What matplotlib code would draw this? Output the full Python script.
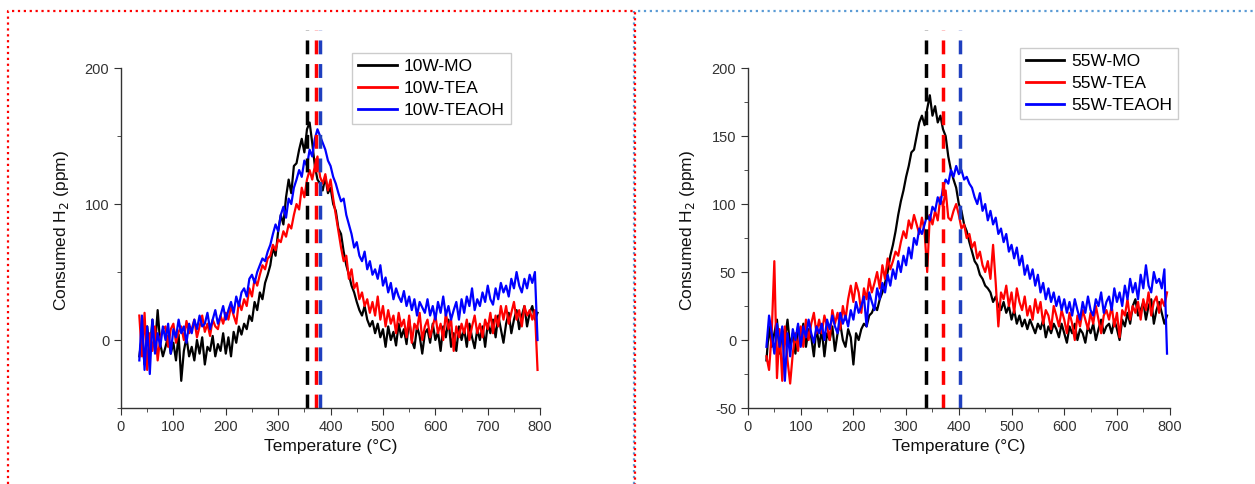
import numpy as np
import matplotlib
matplotlib.use('Agg')
import matplotlib.pyplot as plt
from matplotlib.lines import Line2D

plt.rcParams['font.family'] = ['Liberation Sans', 'DejaVu Sans']
plt.rcParams['axes.unicode_minus'] = False

# temperature grid (°C), one reading every 5 °C from 35 to 795
temp = np.arange(35, 800, 5)

# ---- 10W samples ----
w10_mo = [
    -12, 3, -18, 10, -8, 15, -5, 22, -3, -12,
    -5, 3, -10, -2, -15, 4, -30, -8, 2, -12,
    -5, -15, 0, -10, 2, -18, -5, -8, 3, -12,
    -3, -8, 5, -10, 2, -12, 6, -2, 10, 4,
    12, 8, 18, 14, 28, 22, 35, 30, 42, 48,
    55, 68, 62, 80, 92, 85, 105, 118, 108, 128,
    130, 140, 148, 138, 155, 160, 145, 128, 118, 115,
    110, 120, 108, 112, 100, 95, 82, 78, 65, 55,
    48, 40, 35, 28, 22, 18, 25, 15, 10, 14,
    5, 12, 2, 8, -5, 10, 0, 6, -4, 12,
    2, 8, -3, 15, 0, -6, 10, 3, -10, 5,
    8, -2, 12, 0, 6, -8, 10, 2, 15, -5,
    5, -8, 10, 0, 8, -5, 12, 2, -6, 8,
    0, 10, -5, 12, 5, 15, 2, 18, 8, -2,
    12, 20, 5, 15, 22, 8, 18, 25, 10, 20,
    25, 15, 20]
w10_tea = [
    18, -12, 20, -22, 5, -8, 10, -15, 2, 8,
    10, -5, 8, 12, -2, 6, 10, 0, 14, 5,
    8, 15, 2, 10, 18, 6, 12, 3, 15, 10,
    8, 18, 12, 20, 15, 25, 18, 12, 28, 22,
    30, 25, 38, 32, 45, 40, 48, 55, 52, 60,
    62, 70, 66, 74, 72, 80, 76, 85, 82, 92,
    100, 96, 112, 105, 118, 125, 118, 128, 135, 120,
    115, 122, 110, 118, 104, 92, 80, 68, 58, 62,
    45, 52, 38, 42, 30, 35, 25, 30, 20, 28,
    18, 32, 15, 25, 10, 22, 12, 18, 5, 20,
    10, 15, 2, 18, -2, 12, 8, 20, 0, 10,
    15, 2, 10, 18, 5, 12, 0, 20, 8, 15,
    -8, 10, 2, 12, 5, 15, 0, 10, 18, 5,
    12, 2, 15, 8, 20, 5, 18, 10, 25, 15,
    25, 12, 20, 28, 15, 22, 10, 25, 18, 22,
    15, 22, -22]
w10_teaoh = [
    -15, 18, -22, 10, -25, 15, -10, 5, -5, 10,
    0, 12, -10, 8, 2, 15, 5, 10, -2, 12,
    5, 15, 8, 18, 10, 12, 20, 8, 15, 22,
    12, 18, 25, 15, 22, 28, 20, 32, 25, 35,
    38, 32, 45, 48, 42, 50, 55, 60, 58, 65,
    70, 78, 85, 80, 92, 98, 90, 104, 100, 112,
    118, 125, 120, 132, 128, 140, 135, 148, 155, 150,
    145, 140, 132, 128, 120, 115, 108, 102, 104, 92,
    85, 78, 68, 72, 62, 58, 65, 52, 58, 48,
    52, 45, 55, 40, 46, 35, 42, 30, 38, 32,
    28, 36, 25, 32, 22, 30, 18, 28, 24, 20,
    30, 18, 25, 15, 28, 20, 32, 18, 25, 15,
    22, 28, 15, 30, 20, 32, 25, 38, 22, 30,
    25, 35, 28, 40, 30, 26, 38, 30, 42, 35,
    40, 32, 45, 38, 50, 40, 35, 45, 38, 48,
    42, 50, 0]

# ---- 55W samples ----
w55_mo = [
    -15, 10, -5, 5, 15, -10, 8, 0, 15, -5,
    5, -10, 10, 0, 12, -5, 8, 2, -12, 10,
    -5, 8, -12, 5, 0, 10, -8, 5, 12, 0,
    -5, 8, 2, -18, 5, 0, 8, 12, 10, 18,
    20, 25, 22, 30, 35, 42, 50, 62, 70, 80,
    92, 102, 110, 120, 128, 138, 140, 150, 160, 165,
    158, 170, 180, 165, 172, 160, 165, 155, 150, 135,
    125, 118, 112, 100, 95, 85, 80, 72, 65, 58,
    55, 48, 45, 40, 38, 35, 28, 32, 25, 22,
    28, 20, 25, 15, 22, 12, 18, 10, 15, 8,
    15, 10, 5, 12, 8, 15, 2, 10, 5, 12,
    8, 2, 12, 5, -2, 10, 5, 12, 0, 8,
    5, -2, 10, 5, 12, 0, 8, 15, 5, 10,
    12, 5, 15, 8, 0, 15, 10, 20, 12, 25,
    30, 18, 22, 28, 15, 25, 30, 12, 22, 28,
    20, 12, 18]
w55_tea = [
    -12, -22, 5, 58, -28, 8, -30, 10, -15, -32,
    -10, 5, -8, 10, -5, 15, 0, 12, 20, 5,
    15, 5, 18, 10, 0, 22, 12, 20, 8, 25,
    15, 30, 40, 28, 42, 35, 20, 38, 30, 45,
    35, 42, 50, 38, 55, 45, 60, 52, 58, 65,
    62, 72, 80, 75, 88, 82, 92, 85, 78, 90,
    80, 50, 92, 85, 95, 88, 105, 98, 110, 90,
    88, 95, 100, 92, 82, 85, 75, 78, 68, 72,
    60, 65, 55, 50, 58, 45, 70, 42, 10, 35,
    30, 40, 25, 35, 20, 38, 28, 22, 32, 18,
    25, 15, 30, 20, 28, 12, 22, 18, 8, 25,
    18, 10, 22, 15, 5, 20, 12, 0, 18, 10,
    22, 15, 8, 20, 12, 25, 15, 5, 18, 22,
    15, 25, 10, 20, 2, 22, 18, 30, 15, 25,
    20, 28, 15, 30, 22, 35, 18, 28, 32, 20,
    30, 25, 35]
w55_teaoh = [
    -5, 18, 5, -10, 12, -5, 10, -30, 5, -12,
    8, 0, 12, -5, 10, 2, 15, 5, -2, 10,
    5, 12, 0, 15, 8, 18, 10, 5, 20, 12,
    18, 10, 22, 15, 28, 20, 25, 32, 10, 35,
    28, 22, 38, 30, 42, 35, 48, 40, 52, 45,
    58, 50, 62, 55, 68, 60, 75, 70, 82, 78,
    85, 92, 88, 98, 95, 105, 100, 112, 118, 115,
    125, 120, 128, 122, 125, 118, 120, 115, 112, 105,
    100, 108, 95, 100, 88, 95, 85, 90, 78, 82,
    72, 78, 65, 70, 60, 68, 55, 62, 48, 55,
    45, 52, 40, 48, 35, 42, 30, 38, 28, 35,
    25, 32, 22, 30, 20, 28, 18, 30, 22, 15,
    28, 20, 32, 22, 18, 30, 25, 35, 20, 28,
    32, 22, 38, 28, 35, 25, 40, 30, 45, 35,
    42, 30, 48, 38, 55, 40, 35, 50, 42, 45,
    38, 52, -10]

labels_10 = ['10W-MO', '10W-TEA', '10W-TEAOH']
labels_55 = ['55W-MO', '55W-TEA', '55W-TEAOH']
peaks_10 = [355, 372, 380]   # dashed marker positions
peaks_55 = [338, 370, 402]
colors = ['black', 'red', 'blue']
dash_colors = ['black', 'red', '#1f3fbf']

fig = plt.figure(figsize=(12.55, 4.84), dpi=100)

# panel frames (dotted boxes)
fig.add_artist(Line2D([0.0064, 0.0064, 0.506, 0.506], [0.0, 0.977, 0.977, 0.0],
                      transform=fig.transFigure, color='red', ls=':', lw=1.6))
fig.add_artist(Line2D([0.5055, 0.5055], [0.0, 0.977], transform=fig.transFigure,
                      color='#5b9bd5', ls=':', lw=1.6, zorder=0))
fig.add_artist(Line2D([0.508, 1.0], [0.977, 0.977], transform=fig.transFigure,
                      color='#5b9bd5', ls=':', lw=1.6))

ax1 = fig.add_axes([0.0964, 0.157, 0.334, 0.781])
ax2 = fig.add_axes([0.596, 0.157, 0.336, 0.781])

panels = [(ax1, [w10_mo, w10_tea, w10_teaoh], labels_10, peaks_10, 100, 50, (0.552, 0.94)),
          (ax2, [w55_mo, w55_tea, w55_teaoh], labels_55, peaks_55, 50, 25, (0.645, 0.953))]

for ax, series, labels, peaks, ymaj, ymin, lpos in panels:
    for y, lab, c in zip(series, labels, colors):
        ax.plot(temp, y, color=c, lw=1.6, label=lab)
    for p, c in zip(peaks, dash_colors):
        ax.axvline(p, color=c, lw=2.5, ls=(0, (4, 2.8)))
    ax.set_xlim(0, 800)
    ax.set_ylim(-50, 228)
    ax.spines['top'].set_visible(False)
    ax.spines['right'].set_visible(False)
    ax.spines['left'].set_bounds(-50, 200)
    for s in ['left', 'bottom']:
        ax.spines[s].set_color('#333333')
        ax.spines[s].set_linewidth(1.0)
    ax.set_xticks(np.arange(0, 801, 100))
    ax.set_xticks(np.arange(50, 800, 100), minor=True)
    ax.set_yticks(np.arange(-50 if ymaj == 50 else 0, 201, ymaj))
    ax.set_yticks(np.arange(-50, 201, ymin), minor=True)
    ax.tick_params(which='both', direction='out', colors='#333333', labelsize=10.5)
    ax.tick_params(which='major', length=5)
    ax.tick_params(which='minor', length=3)
    ax.set_xlabel('Temperature (°C)', fontsize=12.5, color='#111111')
    ax.set_ylabel('Consumed H$_2$ (ppm)', fontsize=12.5, color='#111111')
    ax.yaxis.set_label_coords(-0.12, 0.47)
    leg = ax.legend(loc='upper left', bbox_to_anchor=lpos, fontsize=12.5,
                    handlelength=2.2, fancybox=False, framealpha=1,
                    edgecolor='#cccccc', borderpad=0.35, labelspacing=0.4,
                    handletextpad=0.4, borderaxespad=0)
    for h in leg.get_lines():
        h.set_linewidth(2)

fig.savefig('out.png', dpi=100)
